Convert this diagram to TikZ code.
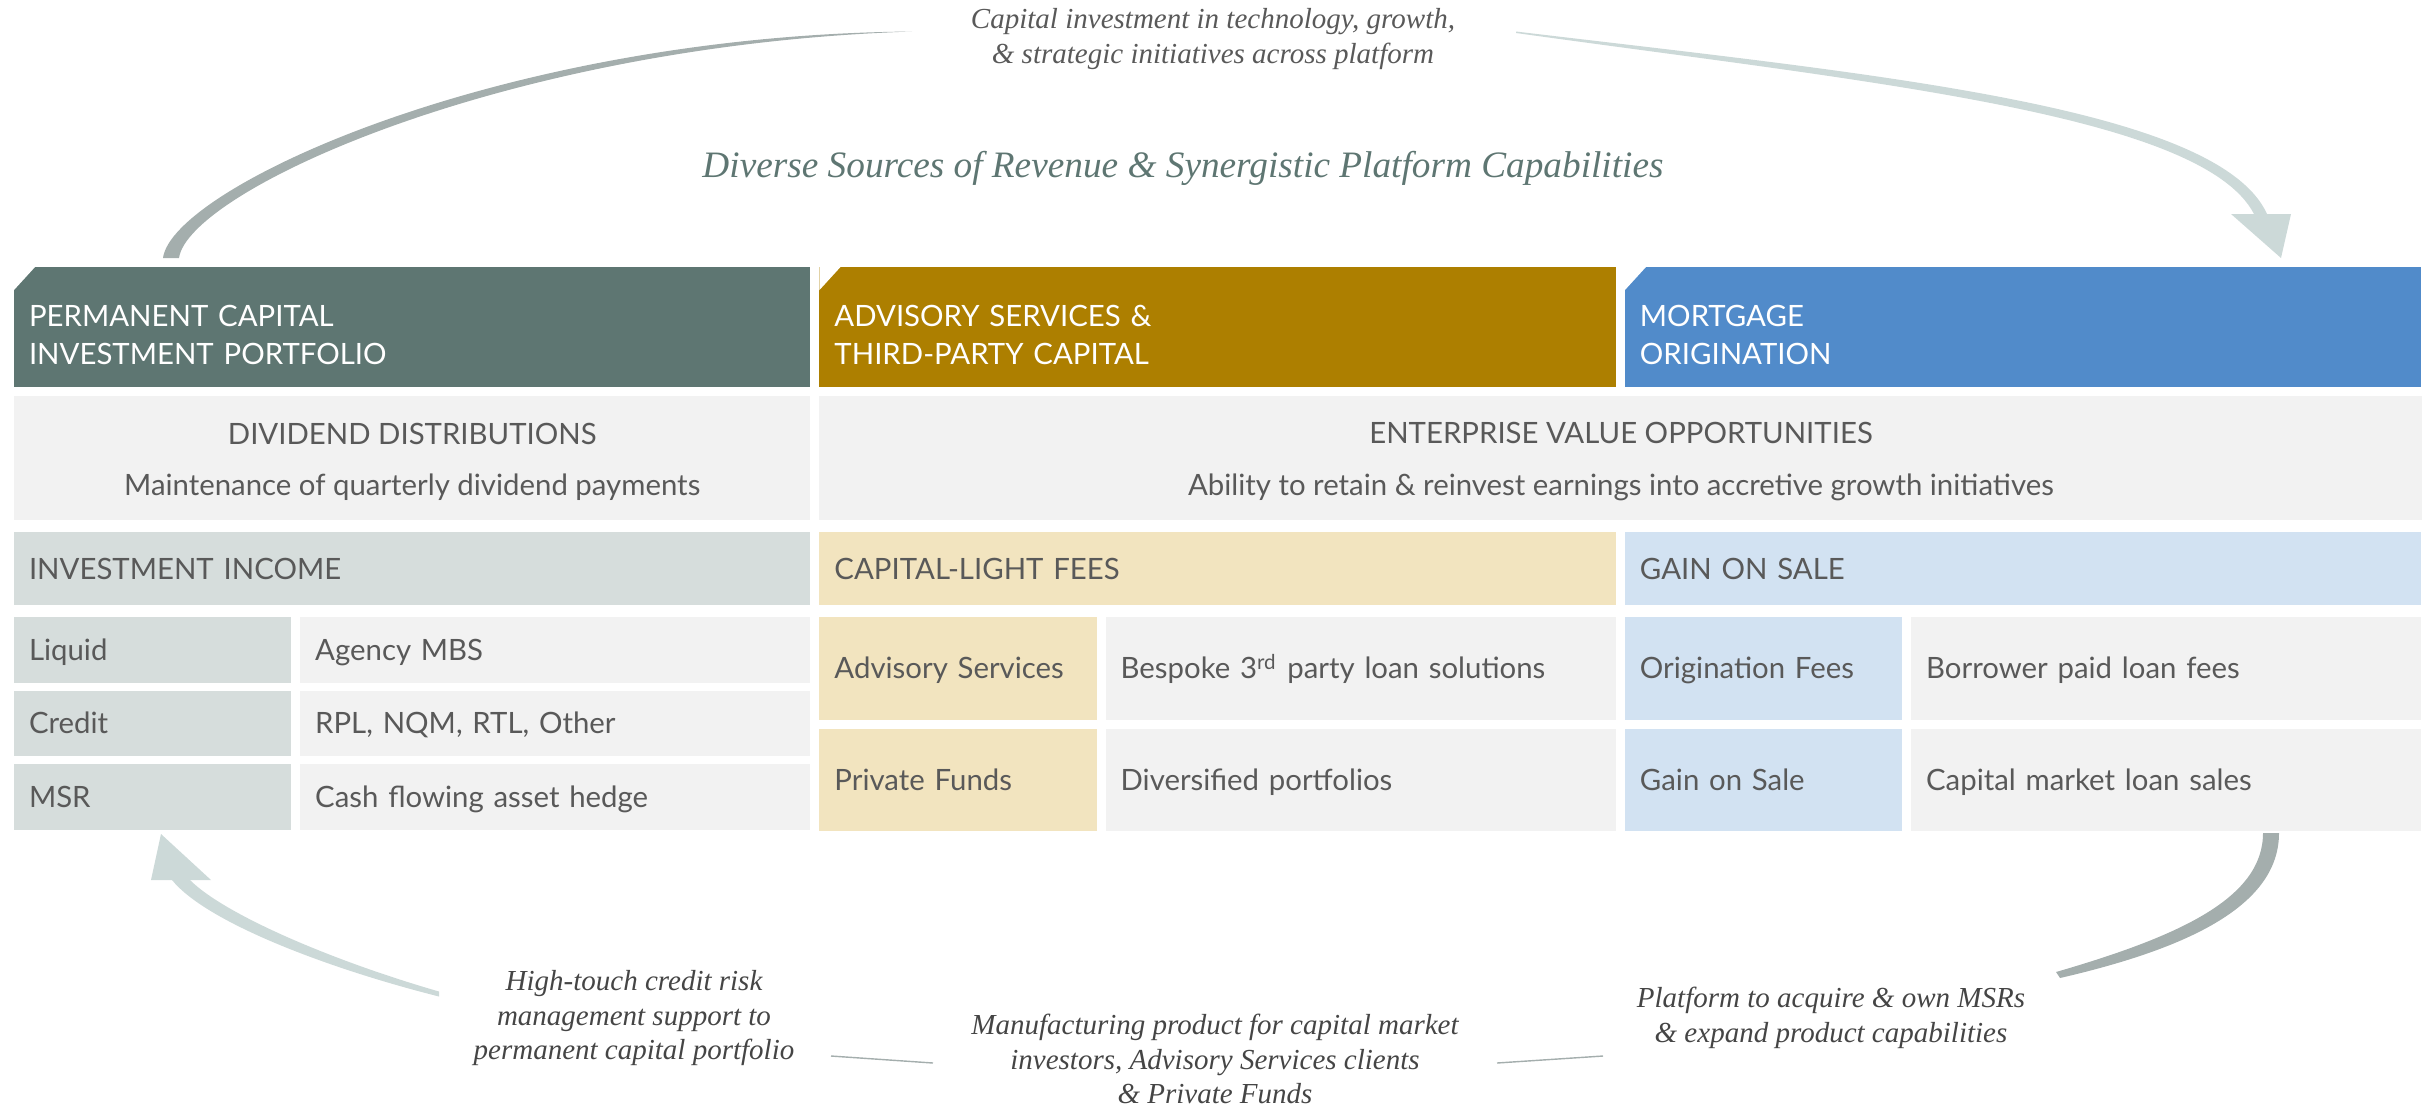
\documentclass[tikz,border=0pt]{standalone}
\usepackage{fontspec}
\usepackage{xcolor}
\usepackage{tikz}
\usetikzlibrary{positioning}
\setsansfont{Lato}
\newfontfamily\notefont{Liberation Serif}
\definecolor{permgreen}{HTML}{5E7672}
\definecolor{advgold}{HTML}{AD7F00}
\definecolor{mortblue}{HTML}{518BCA}
\definecolor{permlight}{HTML}{D6DDDC}
\definecolor{advlight}{HTML}{F2E4BF}
\definecolor{mortlight}{HTML}{D2E2F2}
\definecolor{cellgray}{HTML}{F2F2F2}
\definecolor{textgray}{HTML}{595959}
\definecolor{notegray}{HTML}{454545}
\definecolor{flowdark}{HTML}{A4AEAD}
\definecolor{flowlight}{HTML}{CCD9D8}
\newcommand{\cellfont}{\sffamily\fontsize{8.35}{10.8}\selectfont}

\begin{document}
\begin{tikzpicture}[
    x=0.01cm, y=-0.01cm,
    every node/.style={inner sep=0pt, outer sep=0pt},
    tab/.style={rectangle, fill=#1, minimum width=7.96cm, minimum height=1.2cm, text width=7.66cm, inner xsep=0.15cm, align=left, text=white, font=\cellfont,
        path picture={\fill[white] (path picture bounding box.north west) -- ++(0.21cm,0) -- ++(-0.21cm,-0.23cm) -- cycle;}},
    band/.style={rectangle, fill=cellgray, minimum height=1.24cm, align=center, text=textgray, font=\sffamily\fontsize{8.35}{14.6}\selectfont},
    cell/.style={rectangle, inner xsep=0.15cm, align=left, text=textgray, text height=5.95pt, text depth=0pt, font=\cellfont},
    head/.style={cell, fill=#1, minimum width=7.96cm, text width=7.66cm, minimum height=0.73cm},
    key/.style={cell, fill=#1, minimum width=2.77cm, text width=2.47cm},
    val/.style={cell, fill=cellgray, minimum width=5.10cm, text width=4.80cm},
    short/.style={minimum height=0.655cm},
    tall/.style={minimum height=1.025cm},
    note/.style={align=center, text=notegray, font=\notefont\itshape\fontsize{8.25}{9.8}\selectfont},
    title/.style={text=permgreen, font=\notefont\itshape\fontsize{10.6}{12}\selectfont},
    hairline/.style={draw=flowdark, line width=0.4pt}
]
\useasboundingbox (0,0) rectangle (2433,1108);

% Segment tabs
\node[tab=permgreen, anchor=north west] (permtab) at (14,267) {\rule{0pt}{10.5pt}PERMANENT CAPITAL\\INVESTMENT PORTFOLIO};
\node[tab=advgold, right=0.09cm of permtab] (advtab) {\rule{0pt}{10.5pt}ADVISORY SERVICES \&\\THIRD-PARTY CAPITAL};
\node[tab=mortblue, right=0.09cm of advtab] (morttab) {\rule{0pt}{10.5pt}MORTGAGE\\ORIGINATION};

% Shareholder value band
\node[band, minimum width=7.96cm, below=0.09cm of permtab] (divid) {\rule{0pt}{8pt}DIVIDEND DISTRIBUTIONS\\Maintenance of quarterly dividend payments};
\node[band, minimum width=16.02cm, right=0.09cm of divid] (enterprise) {\rule{0pt}{8pt}ENTERPRISE VALUE OPPORTUNITIES\\Ability to retain \& reinvest earnings into accretive growth initiatives};

% Revenue headers
\node[head=permlight, below=0.12cm of divid] (invhead) {INVESTMENT INCOME};
\node[head=advlight, right=0.09cm of invhead] (feehead) {CAPITAL-LIGHT FEES};
\node[head=mortlight, right=0.09cm of feehead] (gainhead) {GAIN ON SALE};

% Investment income rows
\node[key=permlight, short, below right=0.12cm and 0cm of invhead.south west] (liquid) {Liquid};
\node[val, short, right=0.09cm of liquid] (agency) {Agency MBS};
\node[key=permlight, short, below=0.08cm of liquid] (credit) {Credit};
\node[val, short, right=0.09cm of credit] (loans) {RPL, NQM, RTL, Other};
\node[key=permlight, short, below=0.08cm of credit] (msr) {MSR};
\node[val, short, right=0.09cm of msr] (hedge) {Cash flowing asset hedge};

% Fee rows
\node[key=advlight, tall, below right=0.12cm and 0cm of feehead.south west] (advisory) {Advisory Services};
\node[val, tall, right=0.09cm of advisory] (bespoke) {Bespoke 3\textsuperscript{rd} party loan solutions};
\node[key=advlight, tall, below=0.09cm of advisory] (funds) {Private Funds};
\node[val, tall, right=0.09cm of funds] (diversified) {Diversified portfolios};

% Gain on sale rows
\node[key=mortlight, tall, below right=0.12cm and 0cm of gainhead.south west] (origfees) {Origination Fees};
\node[val, tall, right=0.09cm of origfees] (borrower) {Borrower paid loan fees};
\node[key=mortlight, tall, below=0.09cm of origfees] (gainsale) {Gain on Sale};
\node[val, tall, right=0.09cm of gainsale] (loansales) {Capital market loan sales};

% Captions
\node[title, anchor=base] (banner) at (1183,177) {Diverse Sources of Revenue \& Synergistic Platform Capabilities};
\node[note, text=textgray] (reinvest) at (1213,39) {Capital investment in technology, growth,\\\& strategic initiatives across platform};
\node[note] (support) at (634,1018) {High-touch credit risk\\management support to\\permanent capital portfolio};
\node[note] (product) at (1215,1059) {Manufacturing product for capital market\\investors, Advisory Services clients\\\& Private Funds};
\node[note] (acquire) at (1831,1018) {Platform to acquire \& own MSRs\\\& expand product capabilities};

% Upper flow
\fill[flowdark] (163,258) .. controls (172,188) and (500,35) .. (912,31.5)
    .. controls (502,45) and (188,192) .. (179,258) -- cycle;
\fill[flowlight] (1516,31.5) .. controls (1872,74) and (2218,106) .. (2267,214)
    -- (2254,214) .. controls (2202,114) and (1868,82) .. (1516,33) -- cycle;
\fill[flowlight] (2231,214) -- (2291,214) -- (2281,258) -- cycle;

% Lower flow
\fill[flowdark] (2279,833) .. controls (2279,905) and (2190,948) .. (2060,978)
    -- (2056,972) .. controls (2180,936) and (2263,898) .. (2263,833) -- cycle;
\fill[flowlight] (439,991.5) .. controls (330,960) and (224,914) .. (190,880)
    -- (172,880) .. controls (206,922) and (326,968) .. (439,996.5) -- cycle;
\fill[flowlight] (151,880) -- (211,880) -- (161,834) -- cycle;

\coordinate (linkA) at (831,1056);
\coordinate (linkB) at (933,1063);
\coordinate (linkC) at (1497,1063);
\coordinate (linkD) at (1603,1056);
\draw[hairline] (linkA) -- (linkB);
\draw[hairline] (linkC) -- (linkD);

\end{tikzpicture}
\end{document}
